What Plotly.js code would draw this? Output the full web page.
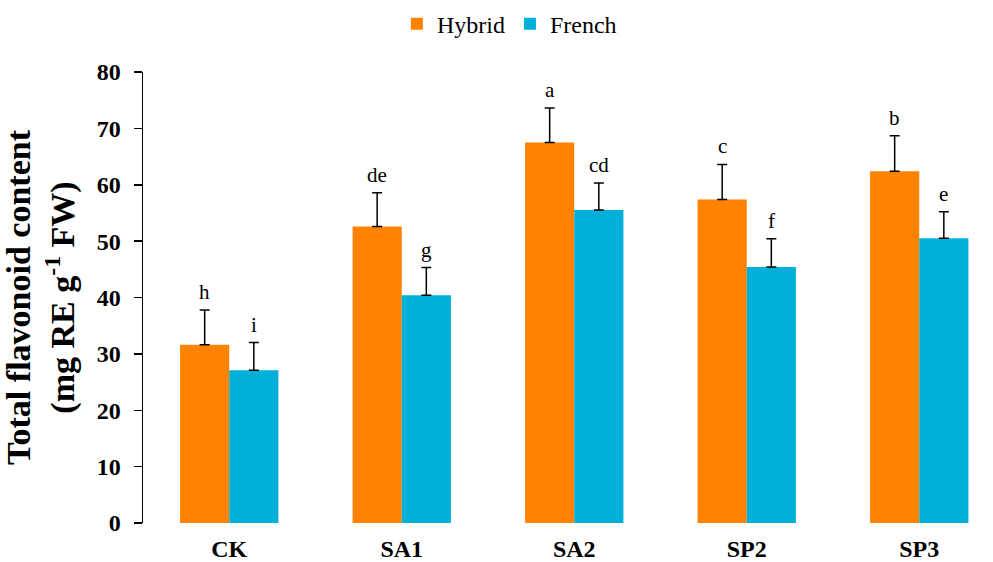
<!DOCTYPE html>
<html>
<head>
<meta charset="utf-8">
<script src="https://cdn.plot.ly/plotly-3.0.1.min.js"></script>
<style>html,body{margin:0;padding:0;background:#fff;}#chart{width:993px;height:562px;}</style>
</head>
<body>
<div id="chart"></div>
<script>
const categories = ["CK", "SA1", "SA2", "SP2", "SP3"];
const hybridValues = [31.6, 52.6, 67.5, 57.4, 62.4];
const hybridErrors = [6.2, 6.0, 6.1, 6.2, 6.3];
const hybridLetters = ["h", "de", "a", "c", "b"];
const frenchValues = [27.1, 40.4, 55.5, 45.4, 50.5];
const frenchErrors = [4.9, 4.9, 4.8, 5.0, 4.7];
const frenchLetters = ["i", "g", "cd", "f", "e"];
const yTicks = [0, 10, 20, 30, 40, 50, 60, 70, 80];
const boundaryTicks = [-0.5, 0.5, 1.5, 2.5, 3.5];

const FONT = "Liberation Serif, Times New Roman, Times, serif";
const ORANGE = "#FF8200";
const BLUE = "#00B0D8";

const traces = [
  {
    type: "bar", name: "Hybrid", x: categories, y: hybridValues,
    marker: {color: ORANGE},
    error_y: {type: "data", array: hybridErrors, arrayminus: hybridErrors.map(() => 0), symmetric: false, color: "#000", thickness: 1.5, width: 5}
  },
  {
    type: "bar", name: "French", x: categories, y: frenchValues,
    marker: {color: BLUE},
    error_y: {type: "data", array: frenchErrors, arrayminus: frenchErrors.map(() => 0), symmetric: false, color: "#000", thickness: 1.5, width: 5}
  }
];

const annotations = [];
categories.forEach((c, i) => {
  annotations.push({x: c, y: hybridValues[i] + hybridErrors[i], xref: "x", yref: "y", text: hybridLetters[i],
    showarrow: false, xshift: -24.5, yanchor: "bottom", yshift: 4, font: {family: FONT, size: 21, color: "#000"}});
  annotations.push({x: c, y: frenchValues[i] + frenchErrors[i], xref: "x", yref: "y", text: frenchLetters[i],
    showarrow: false, xshift: 24.5, yanchor: "bottom", yshift: 4, font: {family: FONT, size: 21, color: "#000"}});
});

const xEnd = -0.5 + 850 / 172.5;

const layout = {
  width: 993, height: 562,
  margin: {l: 143, r: 0, t: 72, b: 39},
  paper_bgcolor: "#fff", plot_bgcolor: "#fff",
  barmode: "group", bargap: 0.43, bargroupgap: 0,
  showlegend: true,
  legend: {orientation: "h", x: 0.513, xanchor: "center", xref: "container", y: 0.997, yref: "container", yanchor: "top",
    font: {family: FONT, size: 24, color: "#000"}, itemwidth: 30, tracegroupgap: 0},
  xaxis: {
    type: "category", categoryorder: "array", categoryarray: categories,
    range: [-0.5, xEnd], showgrid: false, zeroline: false,
    showline: false, ticks: "",
    tickfont: {family: FONT, size: 24, color: "#000", weight: "bold"},
    ticklabelstandoff: 9
  },
  xaxis2: {
    overlaying: "x", type: "linear", range: [-0.5, xEnd], side: "bottom",
    tickmode: "array", tickvals: boundaryTicks, showticklabels: false,
    ticks: "outside", ticklen: 8, tickwidth: 1.5, tickcolor: "#000",
    showline: true, linecolor: "#000", linewidth: 1.5, showgrid: false, zeroline: false
  },
  yaxis: {
    range: [0, 80], tickmode: "array", tickvals: yTicks,
    ticks: "outside", ticklen: 8, tickwidth: 1.5, tickcolor: "#000",
    showline: true, linecolor: "#000", linewidth: 1.5, showgrid: false, zeroline: false,
    tickfont: {family: FONT, size: 24, color: "#000", weight: "bold"},
    ticklabelstandoff: 8,
    title: {text: "Total flavonoid content<br>(mg RE g<sup>-1</sup> FW)", standoff: 12,
      font: {family: FONT, size: 34, color: "#000", weight: "bold"}}
  },
  annotations: annotations
};

Plotly.newPlot("chart", traces, layout, {displayModeBar: false, staticPlot: true});
</script>
</body>
</html>
